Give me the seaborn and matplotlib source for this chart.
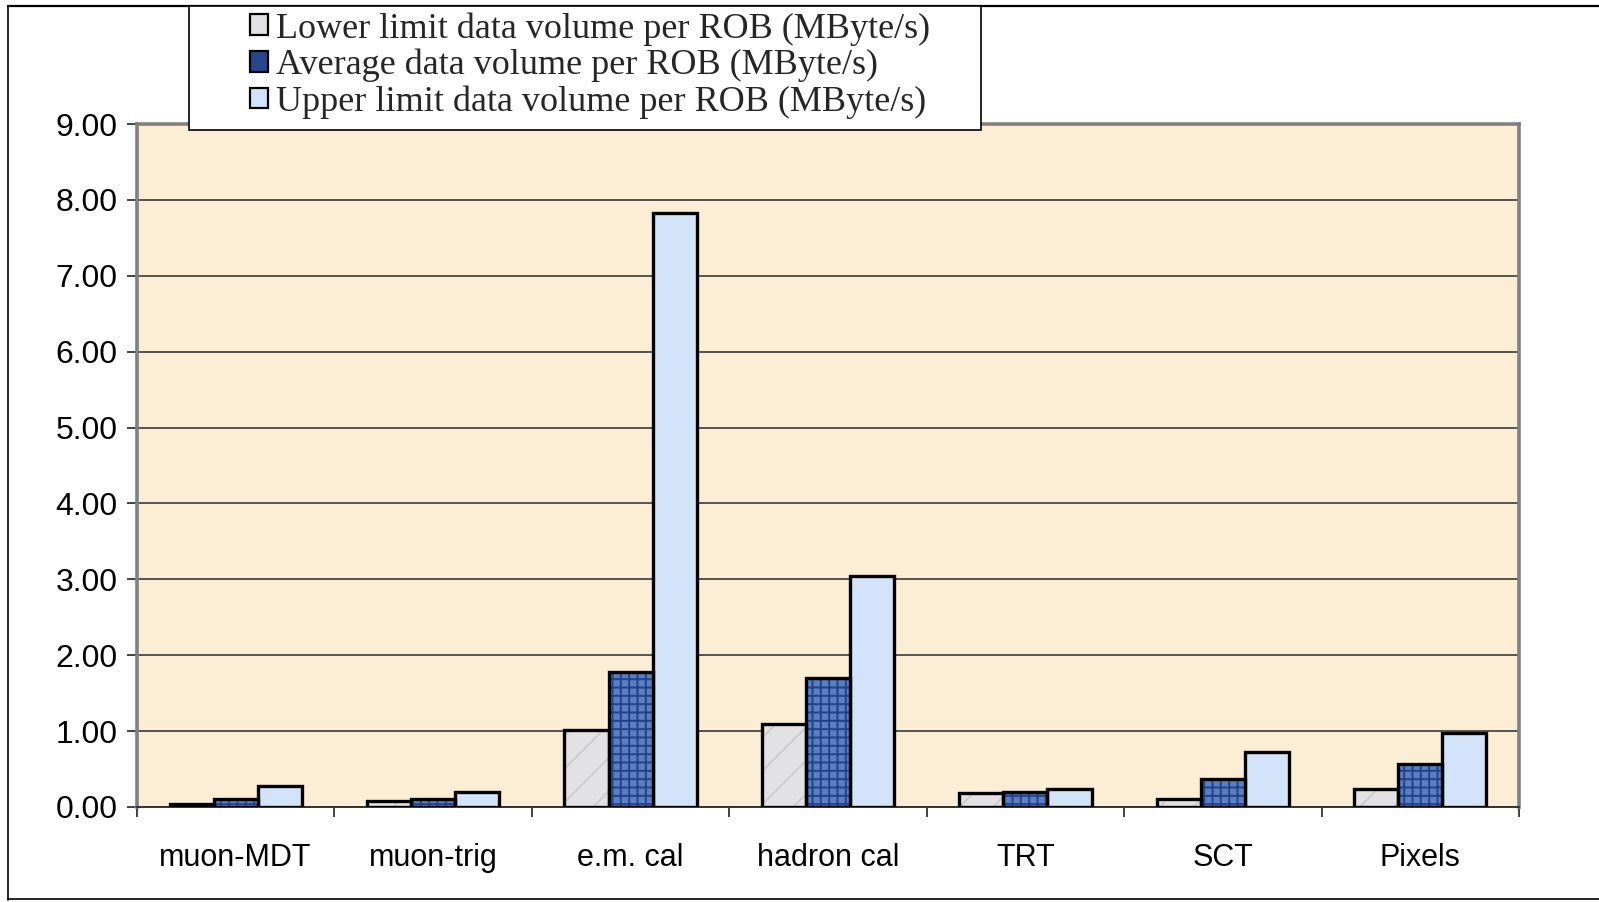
import matplotlib
matplotlib.use("Agg")
import matplotlib.pyplot as plt
from matplotlib.patches import Rectangle, Patch
from matplotlib.lines import Line2D
import seaborn as sns
import pandas as pd
import numpy as np

categories = ["muon-MDT", "muon-trig", "e.m. cal", "hadron cal", "TRT", "SCT", "Pixels"]
series_names = ["Lower limit data volume per ROB (MByte/s)",
                "Average data volume per ROB (MByte/s)",
                "Upper limit data volume per ROB (MByte/s)"]
lower_vals = [0.04, 0.08, 1.02, 1.10, 0.19, 0.11, 0.24]
avg_vals = [0.11, 0.11, 1.78, 1.70, 0.20, 0.37, 0.57]
upper_vals = [0.28, 0.20, 7.83, 3.05, 0.24, 0.73, 0.98]
yticks = [0, 1, 2, 3, 4, 5, 6, 7, 8, 9]
ytick_labels = ["0.00", "1.00", "2.00", "3.00", "4.00", "5.00", "6.00", "7.00", "8.00", "9.00"]

df = pd.DataFrame({
    "category": categories * 3,
    "series": [series_names[0]] * 7 + [series_names[1]] * 7 + [series_names[2]] * 7,
    "value": lower_vals + avg_vals + upper_vals,
})

sns.set_theme(style="white")
plt.rcParams["font.family"] = ["Liberation Sans", "DejaVu Sans"]
plt.rcParams["hatch.linewidth"] = 1.4

colors = ["#E2E2E4", "#5A7EC2", "#D3E4FA"]
fig = plt.figure(figsize=(15.99, 9.02), dpi=100)
ax = fig.add_axes([137 / 1599, 1 - 807 / 902, (1519 - 137) / 1599, (807 - 124) / 902])
ax.set_facecolor("#FBEED4")

sns.barplot(data=df, x="category", y="value", hue="series", hue_order=series_names,
            order=categories, palette=colors, width=0.67, gap=0, saturation=1,
            edgecolor="black", linewidth=2.4, legend=False, ax=ax, zorder=3)

# speckled texture on average bars, faint texture on lower bars
for cont, name in zip(ax.containers, series_names):
    if name == series_names[1]:
        for p in cont.patches:
            bg = Rectangle((p.get_x(), p.get_y()), p.get_width(), p.get_height(),
                           facecolor=colors[1], edgecolor="none", zorder=3.2)
            ax.add_patch(bg)
            r = Rectangle((p.get_x(), p.get_y()), p.get_width(), p.get_height(),
                          facecolor="none", edgecolor="#23438A", linewidth=0,
                          hatch="++", zorder=3.5)
            ax.add_patch(r)
            p.set_zorder(3.6)
            p.set_facecolor("none")
    if name == series_names[0]:
        for p in cont.patches:
            bg = Rectangle((p.get_x(), p.get_y()), p.get_width(), p.get_height(),
                           facecolor=colors[0], edgecolor="none", zorder=3.2)
            ax.add_patch(bg)
            r = Rectangle((p.get_x(), p.get_y()), p.get_width(), p.get_height(),
                          facecolor="none", edgecolor="#CDCDD0", linewidth=0,
                          hatch="/", zorder=3.5)
            ax.add_patch(r)
            p.set_zorder(3.6)
            p.set_facecolor("none")

ax.set_xlim(-0.5, len(categories) - 0.5)
ax.set_ylim(0, 9)
ax.set_yticks(yticks)
ax.set_yticklabels(ytick_labels)
ax.yaxis.grid(True, color="#2a2a2a", linewidth=1.1, zorder=1)
ax.set_axisbelow(True)
ax.set_xlabel("")
ax.set_ylabel("")

ax.tick_params(axis="y", which="major", direction="out", length=7, width=1.2,
               color="#222222", pad=7, labelsize=23, left=True)
ax.tick_params(axis="x", which="major", length=0, pad=26, labelsize=22)
ax.set_xticks(np.arange(len(categories) + 1) - 0.5, minor=True)
ax.tick_params(axis="x", which="minor", direction="out", length=7, width=1.2,
               color="#222222", bottom=True)
for lab in ax.get_xticklabels() + ax.get_yticklabels():
    lab.set_color("black")

for side in ["top", "right", "left"]:
    ax.spines[side].set_color("#808080")
    ax.spines[side].set_linewidth(2.6)
ax.spines["bottom"].set_color("#333333")
ax.spines["bottom"].set_linewidth(1.4)

# outer chart frame
fig.add_artist(Line2D([8 / 1599, 8 / 1599], [1 - 6 / 902, 1 - 900 / 902],
                      transform=fig.transFigure, color="black", linewidth=1.2))
fig.add_artist(Line2D([8 / 1599, 1.0], [1 - 6 / 902, 1 - 6 / 902],
                      transform=fig.transFigure, color="black", linewidth=1.6))
fig.add_artist(Line2D([8 / 1599, 1.0], [1 - 899 / 902, 1 - 899 / 902],
                      transform=fig.transFigure, color="black", linewidth=1.2))

# legend box
fig.add_artist(Rectangle((189 / 1599, 1 - 130 / 902), (981 - 189) / 1599, (130 - 6) / 902,
                         transform=fig.transFigure, facecolor="white",
                         edgecolor="black", linewidth=1.2, zorder=10))
handles = [Patch(facecolor=colors[0], edgecolor="black", linewidth=1.6),
           Patch(facecolor="#27478C", edgecolor="black", linewidth=1.6),
           Patch(facecolor=colors[2], edgecolor="black", linewidth=1.6)]
leg = fig.legend(handles, series_names, loc="upper left",
                 bbox_to_anchor=(250 / 1599, 1 - 12 / 902),
                 bbox_transform=fig.transFigure, frameon=False,
                 prop={"family": ["Liberation Serif", "DejaVu Serif"], "size": 26},
                 handlelength=0.5, handleheight=0.5, handletextpad=0.22,
                 labelspacing=0.09, borderpad=0, borderaxespad=0)
leg.set_zorder(11)

fig.savefig("out.png", dpi=100)
